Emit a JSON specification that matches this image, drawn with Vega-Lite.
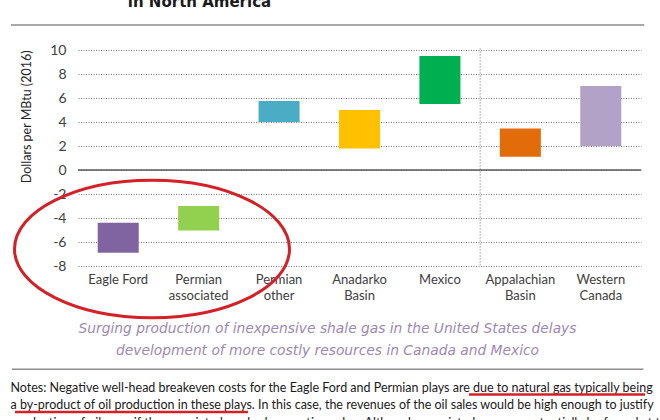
{
  "$schema": "https://vega.github.io/schema/vega-lite/v6.json",
  "width": 563,
  "height": 216,
  "autosize": {"type": "none"},
  "padding": {"left": 78, "top": 50, "right": 19, "bottom": 154},
  "background": "white",
  "config": {"view": {"stroke": null}},
  "title": {
    "text": "in North America",
    "orient": "top",
    "frame": "group",
    "anchor": "middle",
    "dx": -160,
    "dy": 10,
    "offset": 12,
    "baseline": "alphabetic",
    "font": "DejaVu Sans",
    "fontSize": 15,
    "fontWeight": "bold",
    "color": "#1a1a1a"
  },
  "data": {"values": [{}]},
  "datasets": {
    "bars": [
      {"region": "Eagle Ford", "low": -6.9, "high": -4.4},
      {"region": "Permian associated", "low": -5.05, "high": -3.0},
      {"region": "Permian other", "low": 4.0, "high": 5.75},
      {"region": "Anadarko Basin", "low": 1.8, "high": 5.0},
      {"region": "Mexico", "low": 5.5, "high": 9.5},
      {"region": "Appalachian Basin", "low": 1.1, "high": 3.45},
      {"region": "Western Canada", "low": 2.0, "high": 7.0}
    ]
  },
  "resolve": {"axis": {"x": "independent", "y": "independent"}},
  "layer": [
    {
      "mark": {"type": "rule", "color": "#8c8c8c", "strokeWidth": 1.5},
      "encoding": {
        "x": {"datum": "Eagle Ford", "type": "nominal", "bandPosition": -0.833, "axis": null},
        "x2": {"datum": "Western Canada", "bandPosition": 1.04},
        "y": {"datum": 12.08, "type": "quantitative", "axis": null}
      }
    },
    {
      "mark": {"type": "rule", "color": "#8c8c8c", "strokeWidth": 1.5},
      "encoding": {
        "x": {"datum": "Eagle Ford", "type": "nominal", "bandPosition": -0.821, "axis": null},
        "x2": {"datum": "Western Canada", "bandPosition": 1.03},
        "y": {"datum": -16.61, "type": "quantitative", "axis": null}
      }
    },
    {
      "mark": {"type": "rule", "color": "#9a9a9a", "strokeWidth": 1, "strokeDash": [1.5, 1.5]},
      "encoding": {
        "x": {"datum": "Appalachian Basin", "type": "nominal", "bandPosition": 0, "axis": null},
        "y": {"datum": 10.15, "type": "quantitative", "axis": null},
        "y2": {"datum": -8}
      }
    },
    {
      "data": {"name": "bars"},
      "mark": {"type": "bar", "width": {"band": 0.51}},
      "encoding": {
        "x": {
          "field": "region",
          "type": "nominal",
          "scale": {
            "domain": ["Eagle Ford", "Permian associated", "Permian other", "Anadarko Basin", "Mexico", "Appalachian Basin", "Western Canada"],
            "paddingInner": 0,
            "paddingOuter": 0
          },
          "axis": {
            "orient": "bottom",
            "labelAngle": 0,
            "labelExpr": "datum.value == 'Eagle Ford' || datum.value == 'Mexico' ? datum.value : split(datum.value, ' ')",
            "labelFont": "Lato",
            "labelFontSize": 13,
            "labelColor": "#404040",
            "labelLineHeight": 16,
            "labelPadding": 7,
            "ticks": false,
            "domain": false,
            "grid": false,
            "title": ["Surging production of inexpensive shale gas in the United States delays", "development of more costly resources in Canada and Mexico"],
            "titleX": 249,
            "titleY": 66,
            "titleAlign": "center",
            "titleBaseline": "alphabetic",
            "titleFont": "DejaVu Sans",
            "titleFontSize": 13.8,
            "titleFontStyle": "italic",
            "titleFontWeight": "normal",
            "titleColor": "#9c88b6",
            "titleLineHeight": 22.5
          }
        },
        "y": {
          "field": "low",
          "type": "quantitative",
          "scale": {"domain": [-8, 10], "nice": false, "zero": false},
          "axis": {
            "orient": "left",
            "values": [-8, -6, -4, -2, 0, 2, 4, 6, 8, 10],
            "labelExpr": "toString(datum.value)",
            "grid": true,
            "gridDash": [1, 1.5],
            "gridColor": "#7a7a7a",
            "gridWidth": 1,
            "domain": false,
            "ticks": false,
            "labelPadding": 12,
            "labelFont": "Lato",
            "labelFontSize": 14,
            "labelColor": "#404040",
            "title": "Dollars per MBtu (2016)",
            "titleAnchor": "end",
            "titleFont": "Lato",
            "titleFontSize": 12.5,
            "titleFontWeight": "normal",
            "titleColor": "#262626",
            "titlePadding": 16
          }
        },
        "y2": {"field": "high"},
        "color": {
          "field": "region",
          "type": "nominal",
          "scale": {
            "domain": ["Eagle Ford", "Permian associated", "Permian other", "Anadarko Basin", "Mexico", "Appalachian Basin", "Western Canada"],
            "range": ["#8064a2", "#92d050", "#4bacc6", "#ffc000", "#00b050", "#e36c0a", "#b3a2c7"]
          },
          "legend": null
        }
      }
    },
    {
      "mark": {"type": "rule", "color": "#595959", "strokeWidth": 1.5},
      "encoding": {
        "y": {"datum": 0, "type": "quantitative", "axis": null}
      }
    },
    {
      "mark": {
        "type": "point",
        "shape": "M-1,0A1,0.5,0,1,1,1,0A1,0.5,0,1,1,-1,0Z",
        "size": 75625,
        "filled": false,
        "color": "#d42027",
        "strokeWidth": 3,
        "opacity": 1
      },
      "encoding": {
        "x": {"datum": "Eagle Ford", "type": "nominal", "bandPosition": 0.92, "axis": null},
        "y": {"datum": -6.58, "type": "quantitative", "axis": null}
      }
    },
    {
      "mark": {"type": "rule", "color": "#d42027", "strokeWidth": 2.5},
      "encoding": {
        "x": {"datum": "Mexico", "type": "nominal", "bandPosition": 0.862, "axis": null},
        "x2": {"datum": "Western Canada", "bandPosition": 1.05},
        "y": {"datum": -18.71, "type": "quantitative", "axis": null}
      }
    },
    {
      "mark": {"type": "rule", "color": "#d42027", "strokeWidth": 2.5},
      "encoding": {
        "x": {
          "datum": "Eagle Ford",
          "type": "nominal",
          "bandPosition": -0.783,
          "axis": {
            "orient": "bottom",
            "labels": false,
            "ticks": false,
            "domain": false,
            "grid": false,
            "title": ["Notes: Negative well-head breakeven costs for the Eagle Ford and Permian plays are due to natural gas typically being", "a by-product of oil production in these plays. In this case, the revenues of the oil sales would be high enough to justify", "production of oil even if the associated gas had a negative value. Although associated gas may potentially be forced at the"],
            "titleX": -68,
            "titleY": 125,
            "titleAlign": "left",
            "titleAnchor": "start",
            "titleBaseline": "alphabetic",
            "titleFont": "Lato",
            "titleFontSize": 12.5,
            "titleFontWeight": "normal",
            "titleColor": "#1a1a1a",
            "titleLineHeight": 17.5
          }
        },
        "x2": {"datum": "Permian other", "bandPosition": 0.113},
        "y": {"datum": -20.17, "type": "quantitative", "axis": null}
      }
    }
  ]
}
